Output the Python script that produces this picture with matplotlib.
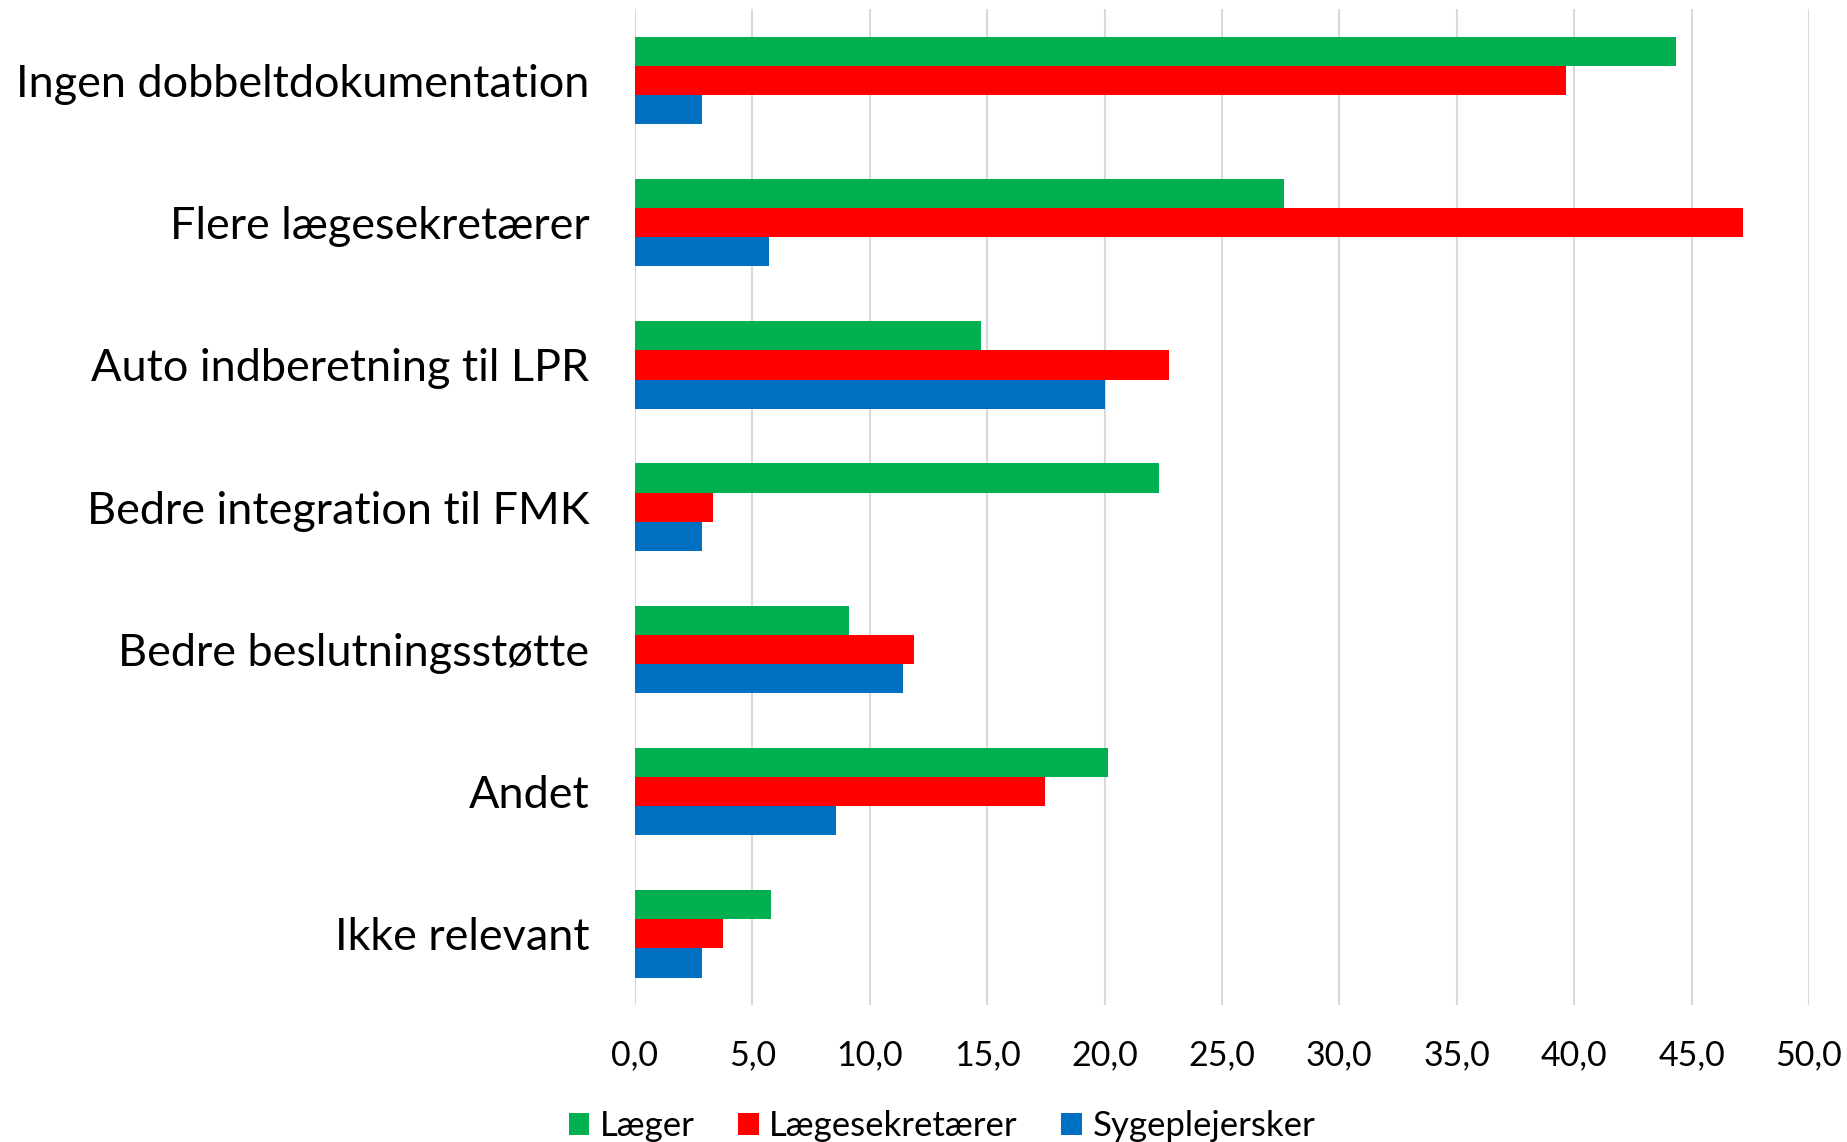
import numpy as np
import matplotlib
matplotlib.use("Agg")
import matplotlib.pyplot as plt

plt.rcParams['font.family'] = ['Lato', 'DejaVu Sans']

categories = ['Ingen dobbeltdokumentation', 'Flere lægesekretærer', 'Auto indberetning til LPR',
              'Bedre integration til FMK', 'Bedre beslutningsstøtte', 'Andet', 'Ikke relevant']
laeger = [44.35, 27.65, 14.74, 22.3, 9.11, 20.13, 5.79]
laegesekretaerer = [39.67, 47.2, 22.73, 3.32, 11.89, 17.48, 3.76]
sygeplejersker = [2.86, 5.71, 20.0, 2.86, 11.43, 8.57, 2.86]
series_names = ['Læger', 'Lægesekretærer', 'Sygeplejersker']
colors = ['#00b050', '#ff0000', '#0070c0']
xticks = np.arange(0, 51, 5)

fig = plt.figure(figsize=(18.47, 11.42), dpi=100)
ax = fig.add_axes([0.3438, 0.12, 0.6356, 0.8718])

y = np.arange(len(categories))
h = 0.205
for k, (vals, name, c) in enumerate(zip([laeger, laegesekretaerer, sygeplejersker], series_names, colors)):
    ax.barh(y + (k - 1) * h, vals, height=h, color=c, label=name, zorder=3)

ax.set_xlim(0, 50)
ax.set_ylim(len(categories) - 0.5, -0.5)
ax.set_xticks(xticks)
ax.set_xticklabels([('%.1f' % v).replace('.', ',') for v in xticks], fontsize=24.5)
ax.set_yticks(y)
ax.set_yticklabels(categories, fontsize=32.4)
ax.tick_params(axis='both', length=0)
ax.tick_params(axis='y', pad=33)
ax.tick_params(axis='x', pad=25)
for s in ax.spines.values():
    s.set_visible(False)
ax.grid(axis='x', color='#d9d9d9', linewidth=1.5, zorder=0)
ax.set_axisbelow(True)

ax.legend(loc='lower center', bbox_to_anchor=(0.51, -0.012), bbox_transform=fig.transFigure,
          ncol=3, frameon=False, fontsize=25, handlelength=0.6, handleheight=0.6,
          handletextpad=0.3, columnspacing=1.25, borderaxespad=0.0)

fig.savefig('out.png', dpi=100)
